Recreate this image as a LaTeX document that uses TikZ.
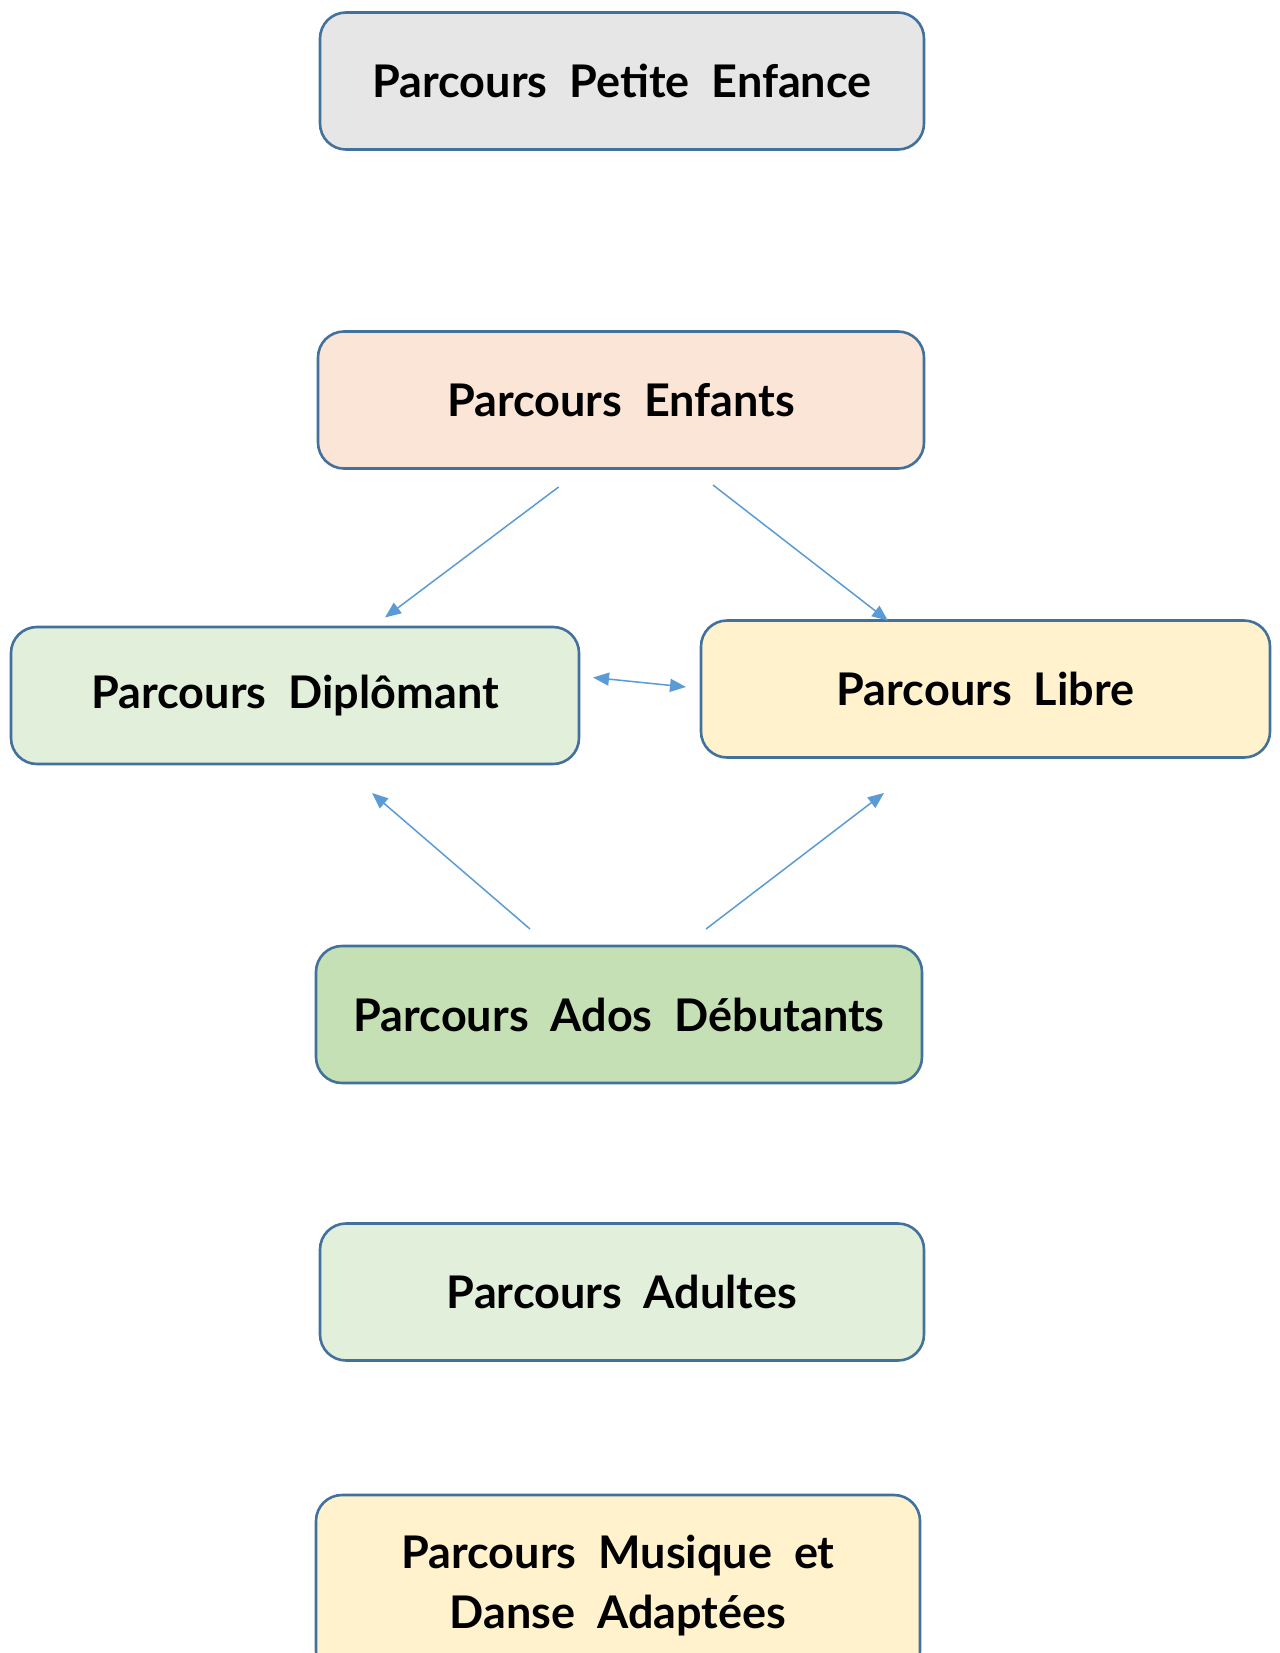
\documentclass[tikz,border=0pt]{standalone}
\usepackage{fontspec}
\setmainfont{Lato}[WordSpace=2.0]
\usetikzlibrary{arrows.meta}
\definecolor{bord}{HTML}{41719C}
\definecolor{arr}{HTML}{5B9BD5}
\definecolor{fgray}{HTML}{E7E6E6}
\definecolor{fpeach}{HTML}{FBE5D6}
\definecolor{fgreenl}{HTML}{E2EFDA}
\definecolor{fyellow}{HTML}{FFF2CC}
\definecolor{fgreen}{HTML}{C5E0B4}
\begin{document}
\begin{tikzpicture}[x=1pt,y=-1pt,
  box/.style={draw=bord, line width=2.6pt, rounded corners=26pt, minimum height=137pt,
    align=center, inner sep=0pt, font=\fontsize{45}{60}\selectfont\bfseries},
  conn/.style={draw=arr, line width=1.5pt, -{Triangle[length=16pt,width=13pt]}},
  dconn/.style={draw=arr, line width=1.5pt, {Triangle[length=16pt,width=13pt]}-{Triangle[length=16pt,width=13pt]}}]
\useasboundingbox (0,0) rectangle (1279,1653);
\clip (0,0) rectangle (1279,1653);
\node[box, fill=fgray, minimum width=604pt] (pe) at (622,81) {Parcours Petite Enfance};
\node[box, fill=fpeach, minimum width=606pt] (en) at (621,400) {Parcours Enfants};
\node[box, fill=fgreenl, minimum width=568pt] (di) at (295,695.5) {Parcours Diplômant};
\node[box, fill=fyellow, minimum width=569pt] (li) at (985.5,689) {Parcours Libre};
\node[box, fill=fgreen, minimum width=606pt] (ad) at (619,1014.5) {Parcours Ados Débutants};
\node[box, fill=fgreenl, minimum width=604pt] (au) at (622,1292) {Parcours Adultes};
\node[box, fill=fyellow, minimum width=604pt, minimum height=182pt] (mu) at (618,1586) {Parcours Musique et\\Danse Adaptées};
\coordinate (a1s) at (558.6,487);
\coordinate (a1e) at (385,617.5);
\coordinate (a2s) at (713,485);
\coordinate (a2e) at (888,620.7);
\coordinate (a3s) at (593,677.5);
\coordinate (a3e) at (686,687);
\coordinate (a4s) at (530,929);
\coordinate (a4e) at (372,793);
\coordinate (a5s) at (706,929);
\coordinate (a5e) at (884,793);
\draw[conn] (a1s) -- (a1e);
\draw[conn] (a2s) -- (a2e);
\draw[dconn] (a3s) -- (a3e);
\draw[conn] (a4s) -- (a4e);
\draw[conn] (a5s) -- (a5e);
\end{tikzpicture}
\end{document}
